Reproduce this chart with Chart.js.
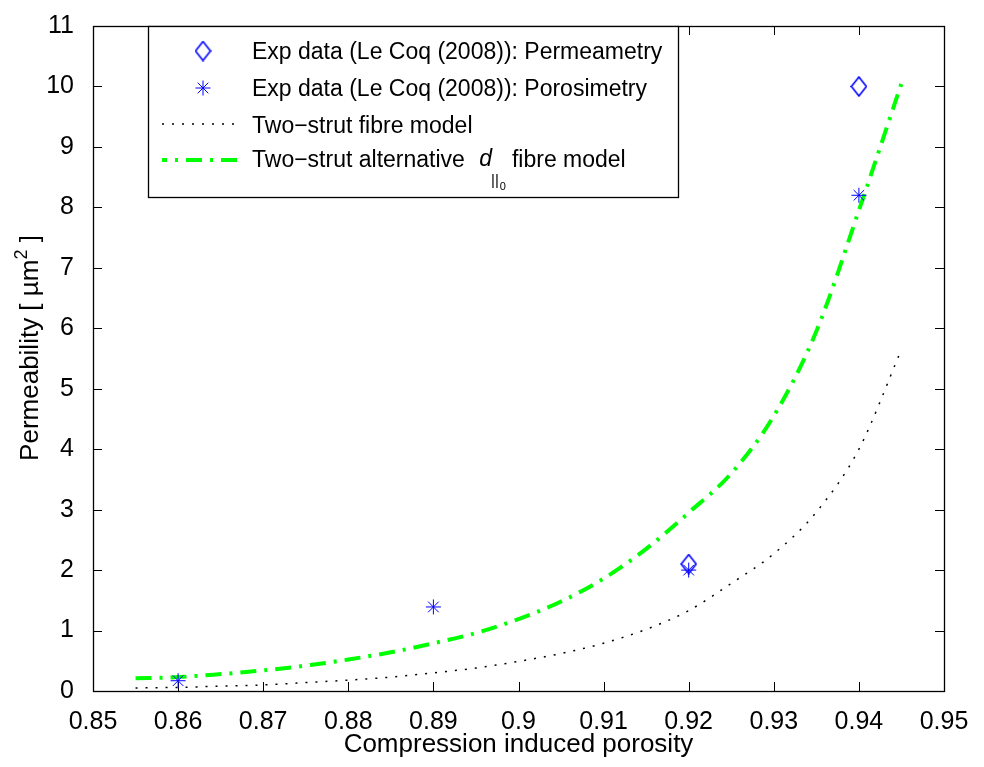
<!DOCTYPE html>
<html>
<head>
<meta charset="utf-8">
<script src="https://cdn.jsdelivr.net/npm/chart.js@4/dist/chart.umd.min.js"></script>
<style>
  html, body { margin: 0; padding: 0; background: #fff; }
  canvas { display: block; }
</style>
</head>
<body>
<canvas id="perm" width="984" height="767"></canvas>
<script>
// model curves, sampled on the porosity grid
const porosity = [0.855, 0.86, 0.865, 0.87, 0.875, 0.88, 0.885, 0.89, 0.895, 0.9,
                  0.905, 0.91, 0.915, 0.92, 0.925, 0.93, 0.935, 0.94, 0.945];
const twoStrut = [0.05, 0.06, 0.08, 0.10, 0.14, 0.18, 0.23, 0.30, 0.38, 0.49,
                  0.62, 0.79, 1.02, 1.33, 1.78, 2.27, 2.96, 4.0, 5.65];
const twoStrutAlt = [0.21, 0.23, 0.28, 0.34, 0.42, 0.52, 0.64, 0.79, 0.96, 1.19,
                     1.48, 1.86, 2.35, 2.95, 3.6, 4.55, 5.95, 7.95, 10.05];

// Le Coq (2008) measurements
const permeametryX = [0.92, 0.94];
const permeametry = [2.1, 10.0];
const porosimetryX = [0.86, 0.89, 0.92, 0.94];
const porosimetry = [0.17, 1.39, 2.0, 8.2];

// axis ticks
const xTicks = [0.85, 0.86, 0.87, 0.88, 0.89, 0.9, 0.91, 0.92, 0.93, 0.94, 0.95];
const yTicks = [0, 1, 2, 3, 4, 5, 6, 7, 8, 9, 10, 11];

const BLUE = '#0000ff';
const GREEN = '#00ff00';
const FONT = 'Liberation Sans, Arial, Helvetica, sans-serif';

function pairs(xs, ys) {
  return xs.map((x, i) => ({ x: x, y: ys[i] }));
}

// open diamond marker, a bit taller than wide
function diamondMarker() {
  const c = document.createElement('canvas');
  c.width = 17; c.height = 21;
  const g = c.getContext('2d');
  g.strokeStyle = BLUE;
  g.lineWidth = 1.6;
  g.beginPath();
  g.moveTo(8.5, 1);
  g.lineTo(16, 10.5);
  g.lineTo(8.5, 20);
  g.lineTo(1, 10.5);
  g.closePath();
  g.stroke();
  return c;
}
const diamond = diamondMarker();

// box, inward ticks and titles drawn around the plot area
const framePlugin = {
  id: 'frame',
  beforeDatasetsDraw(chart) {
    const ctx = chart.ctx;
    const a = chart.chartArea;
    const xs = chart.scales.x, ys = chart.scales.y;
    ctx.save();
    ctx.strokeStyle = '#000';
    ctx.lineWidth = 1;
    ctx.beginPath();
    xTicks.forEach(t => {
      const px = Math.round(xs.getPixelForValue(t)) + 0.5;
      ctx.moveTo(px, a.bottom); ctx.lineTo(px, a.bottom - 9);
      ctx.moveTo(px, a.top); ctx.lineTo(px, a.top + 9);
    });
    yTicks.forEach(t => {
      const py = Math.round(ys.getPixelForValue(t)) + 0.5;
      ctx.moveTo(a.left, py); ctx.lineTo(a.left + 9, py);
      ctx.moveTo(a.right, py); ctx.lineTo(a.right - 9, py);
    });
    ctx.stroke();
    ctx.lineWidth = 1.3;
    ctx.strokeRect(Math.round(a.left) + 0.5, Math.round(a.top) + 0.5,
                   Math.round(a.right - a.left), Math.round(a.bottom - a.top));
    ctx.restore();
  },
  afterDraw(chart) {
    const ctx = chart.ctx;
    const a = chart.chartArea;
    ctx.save();
    ctx.fillStyle = '#000';

    // x title
    ctx.font = '26px ' + FONT;
    ctx.textAlign = 'center';
    ctx.textBaseline = 'alphabetic';
    ctx.fillText('Compression induced porosity', (a.left + a.right) / 2, 752);

    // y title with superscript
    const main = 'Permeability [ \u00b5m', tail = ' ]';
    ctx.font = '26px ' + FONT;
    const w1 = ctx.measureText(main).width, w3 = ctx.measureText(tail).width;
    ctx.font = '18px ' + FONT;
    const w2 = ctx.measureText('2').width;
    const total = w1 + w2 + w3;
    ctx.translate(38, 348);
    ctx.rotate(-Math.PI / 2);
    ctx.textAlign = 'left';
    let x0 = -total / 2;
    ctx.font = '26px ' + FONT;
    ctx.fillText(main, x0, 0);
    ctx.font = '18px ' + FONT;
    ctx.fillText('2', x0 + w1, -11);
    ctx.font = '26px ' + FONT;
    ctx.fillText(tail, x0 + w1 + w2, 0);
    ctx.restore();

    drawLegend(chart);
  }
};

function drawLegend(chart) {
  const ctx = chart.ctx;
  const sets = chart.data.datasets;
  ctx.save();
  ctx.fillStyle = '#fff';
  ctx.fillRect(148, 26, 530, 171);
  ctx.strokeStyle = '#000';
  ctx.lineWidth = 1.3;
  ctx.strokeRect(148.5, 26.5, 530, 171);

  const tx = 252;
  ctx.fillStyle = '#000';
  ctx.font = '23px ' + FONT;
  ctx.textAlign = 'left';
  ctx.textBaseline = 'alphabetic';

  // markers
  ctx.drawImage(diamond, 203 - diamond.width / 2, 51 - diamond.height / 2);
  ctx.strokeStyle = BLUE;
  ctx.lineWidth = 1;
  Chart.helpers.drawPoint(ctx, { pointStyle: 'star', radius: 7.5, borderWidth: 1 }, 203, 88);

  // line samples
  ctx.beginPath();
  ctx.strokeStyle = '#000';
  ctx.lineWidth = sets[2].borderWidth;
  ctx.setLineDash(sets[2].borderDash);
  ctx.moveTo(162, 124); ctx.lineTo(242, 124);
  ctx.stroke();
  ctx.beginPath();
  ctx.strokeStyle = GREEN;
  ctx.lineWidth = sets[3].borderWidth;
  ctx.setLineDash([16, 8, 3, 8]);
  ctx.lineDashOffset = 11;
  ctx.moveTo(162, 160); ctx.lineTo(245, 160);
  ctx.stroke();
  ctx.setLineDash([]);

  ctx.fillText(sets[0].label, tx, 59);
  ctx.fillText(sets[1].label, tx, 96);
  ctx.fillText(sets[2].label, tx, 133);

  // "Two−strut alternative d||0 fibre model"
  const s1 = 'Two\u2212strut alternative ';
  ctx.fillText(s1, tx, 167);
  let x = tx + ctx.measureText(s1).width + 8;
  ctx.font = 'italic 23px ' + FONT;
  ctx.fillText('d', x, 166);
  x += ctx.measureText('d').width;
  ctx.font = '15px ' + FONT;
  ctx.fillText('||', x - 1, 185);
  x += ctx.measureText('||').width - 1;
  ctx.font = '11px ' + FONT;
  ctx.fillText('0', x + 1, 190);
  x += ctx.measureText('0').width + 7;
  ctx.font = '23px ' + FONT;
  ctx.fillText('fibre model', x, 167);
  ctx.restore();
}

new Chart(document.getElementById('perm'), {
  type: 'scatter',
  data: {
    datasets: [
      {
        label: 'Exp data (Le Coq (2008)): Permeametry',
        data: pairs(permeametryX, permeametry),
        pointStyle: diamond,
        borderColor: BLUE,
        backgroundColor: BLUE,
        showLine: false
      },
      {
        label: 'Exp data (Le Coq (2008)): Porosimetry',
        data: pairs(porosimetryX, porosimetry),
        pointStyle: 'star',
        pointRadius: 7.5,
        borderColor: BLUE,
        borderWidth: 1,
        showLine: false
      },
      {
        label: 'Two\u2212strut fibre model',
        data: pairs(porosity, twoStrut),
        showLine: true,
        borderColor: '#000',
        borderWidth: 1.5,
        borderDash: [2, 8],
        pointRadius: 0,
        cubicInterpolationMode: 'monotone'
      },
      {
        label: 'Two\u2212strut alternative d fibre model',
        data: pairs(porosity, twoStrutAlt),
        showLine: true,
        borderColor: GREEN,
        borderWidth: 4,
        borderDash: [16, 8, 3, 8],
        pointRadius: 0,
        cubicInterpolationMode: 'monotone'
      }
    ]
  },
  options: {
    responsive: false,
    animation: false,
    devicePixelRatio: 1,
    layout: { padding: { top: 18, right: 40, left: 0, bottom: 0 } },
    plugins: {
      legend: { display: false },
      tooltip: { enabled: false }
    },
    scales: {
      x: {
        type: 'linear',
        min: 0.85,
        max: 0.95,
        grid: { display: false },
        border: { display: false },
        afterBuildTicks: s => { s.ticks = xTicks.map(v => ({ value: v })); },
        afterFit: s => { s.height = 76; },
        ticks: {
          color: '#000',
          font: { family: FONT, size: 25 },
          padding: 8,
          maxRotation: 0,
          autoSkip: false,
          callback: v => String(Number(v.toFixed(2)))
        }
      },
      y: {
        type: 'linear',
        min: 0,
        max: 11,
        grid: { display: false },
        border: { display: false },
        afterBuildTicks: s => { s.ticks = yTicks.map(v => ({ value: v })); },
        afterFit: s => { s.width = 93; },
        ticks: {
          color: '#000',
          font: { family: FONT, size: 25 },
          padding: 11,
          autoSkip: false
        }
      }
    }
  },
  plugins: [framePlugin]
});
</script>
</body>
</html>
